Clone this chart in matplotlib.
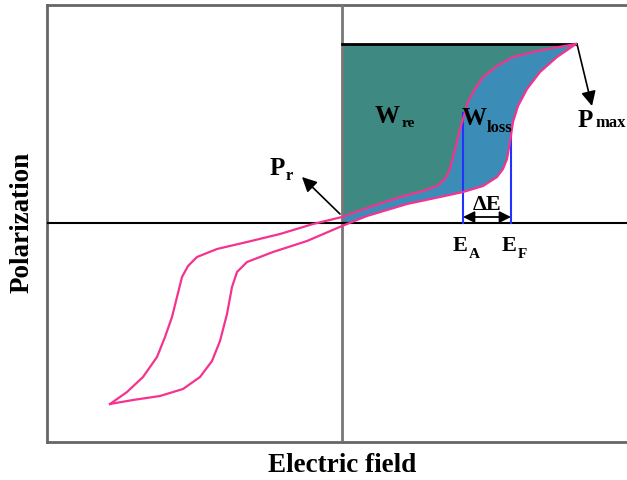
import matplotlib
matplotlib.use('Agg')
import matplotlib.pyplot as plt
import numpy as np

plt.rcParams['font.family'] = 'Liberation Serif'
plt.rcParams['font.weight'] = 'bold'

# charge branch: negative tip -> positive tip (E, P)
charge_E = [-232, -209, -182, -159, -142, -130, -122, -115, -110, -105, -95, -69,
            -35, 0, 25, 65, 98, 121, 141, 155, 161, 165, 168, 171, 176, 185,
            198, 215, 234]
charge_P = [-181, -177, -173, -166, -154, -138, -118, -91, -64, -49, -39, -29,
            -18, -3, 7, 19, 26, 31, 37, 46, 54, 64, 81, 101, 117, 134,
            151, 166, 179]

# discharge branch: positive tip -> negative tip
dis_E = [234, 211, 191, 171, 155, 141, 133, 126, 122, 118, 113, 108, 103, 95,
         81, 58, 31, 8, 0, -29, -62, -95, -125, -145, -154, -160, -165, -170,
         -177, -185, -199, -215, -232]
dis_P = [179, 175, 171, 166, 157, 146, 134, 121, 107, 94, 74, 54, 44, 37,
         32, 26, 17, 9, 6, -1, -11, -19, -26, -34, -43, -54, -74, -94,
         -114, -134, -154, -169, -181]

P_max = 179
E_A, E_A_top = 121, 110
E_F, E_F_top = 169, 94

pink = '#f5338f'
teal = '#3e8a82'
blue = '#3b8db8'

fig = plt.figure(figsize=(6.27, 4.81), dpi=100)
ax = fig.add_axes([47 / 627, 38 / 481, 595 / 627, 437 / 481])
ax.set_xlim(-295, 300)
ax.set_ylim(-219, 218)
ax.set_xticks([])
ax.set_yticks([])
for s in ax.spines.values():
    s.set_color('#666666')
    s.set_linewidth(2)

cE = np.array(charge_E)
cP = np.array(charge_P)
dE = np.array(dis_E)
dP = np.array(dis_P)

# first quadrant parts of the loop
up_E, up_P = dE[dE >= 0], dP[dE >= 0]      # tip -> origin
lo_E, lo_P = cE[cE >= 0], cP[cE >= 0]      # origin -> tip

# recoverable energy density
ax.fill(np.r_[0, up_E], np.r_[P_max, up_P], color=teal, lw=0)
# energy loss
ax.fill(np.r_[lo_E, up_E], np.r_[lo_P, up_P], color=blue, lw=0)

ax.axvline(0, color='#777777', lw=2, zorder=3)
ax.axhline(0, color='black', lw=1.5, zorder=3)
ax.plot([0, up_E[0]], [P_max, P_max], color='black', lw=2, zorder=3)

ax.plot(cE, cP, color=pink, lw=1.6, zorder=4)
ax.plot(dE, dP, color=pink, lw=1.6, zorder=4)

ax.plot([E_A, E_A], [0, E_A_top], color='#2233ff', lw=1.5, zorder=3)
ax.plot([E_F, E_F], [0, E_F_top], color='#2233ff', lw=1.5, zorder=3)

ax.annotate('', xy=(E_A, 6), xytext=(E_F, 6),
            arrowprops=dict(arrowstyle='<|-|>', color='black', lw=1.3,
                            mutation_scale=17, shrinkA=0, shrinkB=0), zorder=5)
ax.text((E_A + E_F) / 2, 9, '\u0394E', ha='center', va='bottom', fontsize=16,
        zorder=5)


def label(x, y, main, sub, size, sub_size, gap, drop):
    ax.text(x, y, main, fontsize=size, va='baseline', ha='left', zorder=5)
    ax.text(x + gap, y - drop, sub, fontsize=sub_size, va='baseline',
            ha='left', zorder=5)


label(111, -27, 'E', 'A', 16, 11, 16, 7)
label(160, -27, 'E', 'F', 16, 11, 16, 7)
label(33, 101, 'W', 're', 18, 11, 27, 4)
label(120, 99, 'W', 'loss', 18, 12, 25, 7)
label(-72, 49, 'P', 'r', 18, 12, 16, 5)
label(236, 97, 'P', 'max', 18, 12, 17, 0)

# P_r and P_max arrows
ax.annotate('', xy=(-40, 46), xytext=(-2, 9),
            arrowprops=dict(arrowstyle='-|>', color='black', lw=1.2,
                            mutation_scale=22, shrinkA=0, shrinkB=0))
ax.annotate('', xy=(250, 117), xytext=(235, 179),
            arrowprops=dict(arrowstyle='-|>', color='black', lw=1.2,
                            mutation_scale=22, shrinkA=0, shrinkB=0))

fig.text(342 / 627, 1 - 466 / 481, 'Electric field', ha='center', va='center',
         fontsize=19.5, fontweight='bold')
fig.text(22 / 627, 1 - 222 / 481, 'Polarization', ha='center', va='center',
         rotation=90, fontsize=19.5, fontweight='bold')

fig.savefig('out.png', dpi=100)
